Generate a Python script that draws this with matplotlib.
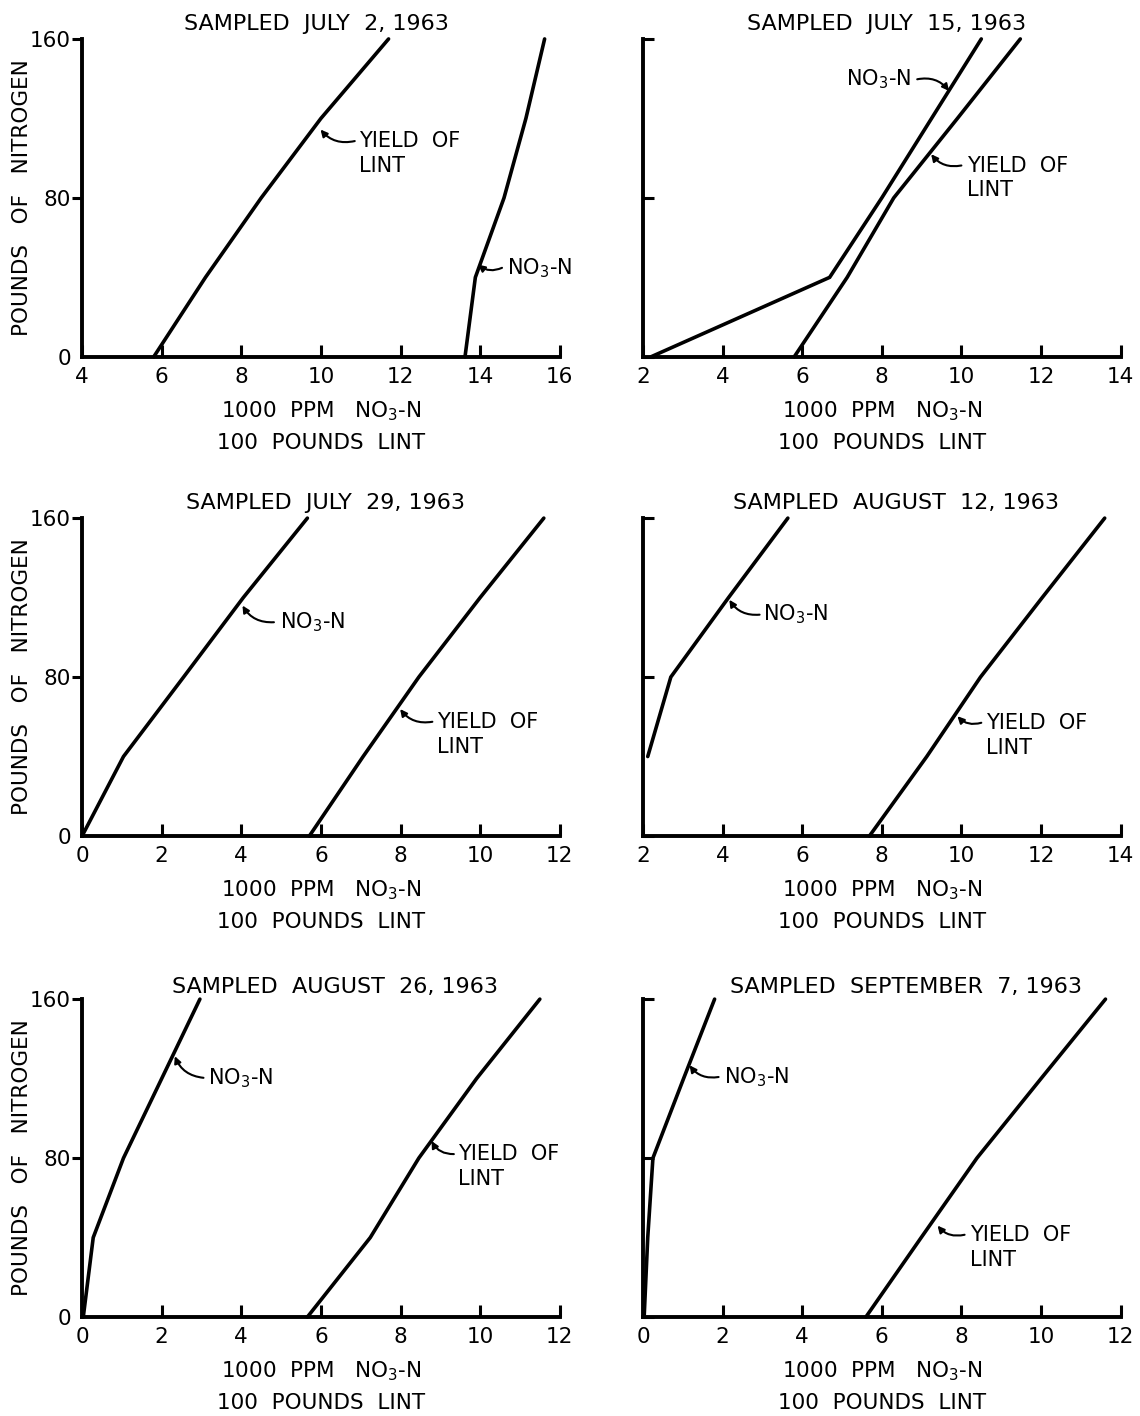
import matplotlib
matplotlib.use('Agg')  # no display
import matplotlib.pyplot as plt
import numpy as np

# Nitrogen applied, pounds per acre (y axis of every panel)
nitrogen = [0, 40, 80, 120, 160]

sample_dates = ['JULY  2, 1963', 'JULY  15, 1963', 'JULY  29, 1963',
                'AUGUST  12, 1963', 'AUGUST  26, 1963', 'SEPTEMBER  7, 1963']

x_ranges = [(4, 16), (2, 14), (0, 12), (2, 14), (0, 12), (0, 12)]

# Petiole NO3-N, 1000 ppm
no3_jul02 = [13.62, 13.88, 14.6, 15.15, 15.62]
no3_jul15 = [2.2, 6.69, 8.0, 9.25, 10.5]
no3_jul29 = [0.0, 1.04, 2.55, 4.05, 5.66]
no3_aug12 = [np.nan, 2.12, 2.7, 4.15, 5.64]
no3_aug26 = [0.03, 0.28, 1.04, 2.0, 2.96]
no3_sep07 = [0.03, 0.12, 0.25, 1.02, 1.8]

# Yield of lint, 100 pounds
lint_jul02 = [5.8, 7.1, 8.5, 10.0, 11.7]
lint_jul15 = [5.8, 7.13, 8.3, 9.9, 11.48]
lint_jul29 = [5.71, 7.06, 8.46, 10.0, 11.6]
lint_aug12 = [7.69, 9.13, 10.48, 12.03, 13.6]
lint_aug26 = [5.66, 7.24, 8.46, 9.91, 11.5]
lint_sep07 = [5.6, 6.99, 8.39, 10.0, 11.62]

no3_all = [no3_jul02, no3_jul15, no3_jul29, no3_aug12, no3_aug26, no3_sep07]
lint_all = [lint_jul02, lint_jul15, lint_jul29, lint_aug12, lint_aug26, lint_sep07]

# Curve labels: arrow head, arrow tail, text anchor (data units), text alignment
no3_labels = [
    ((13.95, 46.4), (14.55, 44.8), (14.67, 44.8), 'left'),
    ((9.69, 133.8), (8.89, 139.7), (8.75, 139.7), 'right'),
    ((4.03, 116.0), (4.82, 107.6), (4.96, 107.6), 'left'),
    ((4.17, 118.9), (4.93, 111.4), (5.02, 111.4), 'left'),
    ((2.33, 131.3), (3.05, 120.4), (3.17, 120.4), 'left'),
    ((1.17, 126.7), (1.90, 120.8), (2.03, 120.8), 'left'),
]
lint_labels = [
    ((9.99, 114.4), (10.85, 108.6), (10.96, 108.6)),
    ((9.24, 102.0), (10.0, 96.3), (10.14, 96.3)),
    ((7.99, 63.9), (8.80, 57.5), (8.92, 57.5)),
    ((9.90, 60.3), (10.50, 57.0), (10.62, 57.0)),
    ((8.78, 88.6), (9.34, 82.0), (9.44, 82.0)),
    ((7.40, 46.0), (8.08, 41.4), (8.21, 41.4)),
]
title_x = [0.49, 0.51, 0.51, 0.53, 0.53, 0.55]
title_pad = [11, 11, 11, 11, 9, 9]

NO3 = r'NO$_3$-N'

plt.rcParams.update({
    'font.family': 'DejaVu Sans',
    'font.size': 15,
    'mathtext.fontset': 'dejavusans',
})

fig = plt.figure(figsize=(11.4, 14.16), dpi=100, facecolor='white')

lefts = [0.072, 0.564]
bottoms = [0.748, 0.4096, 0.0699]
width, height = 0.419, 0.2245

arrow_style = dict(arrowstyle='-|>', color='black', lw=1.5,
                   mutation_scale=10, shrinkA=0, shrinkB=0,
                   connectionstyle='arc3,rad=-0.3')

for i in range(6):
    row, col = divmod(i, 2)
    ax = fig.add_axes([lefts[col], bottoms[row], width, height])
    x0, x1 = x_ranges[i]

    ax.plot(no3_all[i], nitrogen, color='black', lw=2.6,
            solid_joinstyle='miter', solid_capstyle='round', clip_on=False)
    ax.plot(lint_all[i], nitrogen, color='black', lw=2.6,
            solid_joinstyle='miter', solid_capstyle='round', clip_on=False)

    ax.set_xlim(x0, x1)
    ax.set_ylim(0, 160)
    ax.set_xticks(np.arange(x0, x1 + 1, 2))
    ax.set_xticklabels([str(v) for v in range(x0, x1 + 1, 2)])
    ax.set_yticks([0, 80, 160])

    for side in ['top', 'right']:
        ax.spines[side].set_visible(False)
    for side in ['left', 'bottom']:
        ax.spines[side].set_linewidth(2.8)
        ax.spines[side].set_capstyle('projecting')

    ax.tick_params(axis='x', direction='in', length=9, width=2.2,
                   labelsize=15.5, pad=7)
    if col == 0:
        ax.tick_params(axis='y', direction='out', length=7, width=2.2,
                       labelsize=15.5, pad=1)
        ax.yaxis.get_major_ticks()[0].tick1line.set_visible(False)
    else:
        ax.tick_params(axis='y', direction='in', length=8, width=2.2,
                       labelleft=False)

    # panel heading
    ax.annotate('SAMPLED  ' + sample_dates[i], xy=(title_x[i], 1.0),
                xycoords='axes fraction', xytext=(0, title_pad[i]),
                textcoords='offset points', ha='center', va='center',
                fontsize=16)

    # two-line axis caption
    ax.annotate('1000  PPM   ' + NO3, xy=(0.5, 0), xycoords='axes fraction',
                xytext=(0, -39), textcoords='offset points',
                ha='center', va='center', fontsize=15.5)
    ax.annotate('100  POUNDS  LINT', xy=(0.5, 0), xycoords='axes fraction',
                xytext=(0, -62), textcoords='offset points',
                ha='center', va='center', fontsize=15.5)

    # curve labels with pointer arrows
    head, tail, anchor, align = no3_labels[i]
    ax.annotate('', xy=head, xytext=tail, arrowprops=arrow_style)
    ax.text(anchor[0], anchor[1], NO3, ha=align, va='center',
            fontsize=15, clip_on=False)

    head, tail, anchor = lint_labels[i]
    ax.annotate('', xy=head, xytext=tail, arrowprops=arrow_style)
    ax.text(anchor[0], anchor[1], 'YIELD  OF', ha='left', va='center',
            fontsize=15, clip_on=False)
    ax.text(anchor[0], anchor[1] - 12.5, 'LINT', ha='left', va='center',
            fontsize=15, clip_on=False)

    if col == 0:
        fig.text(22 / 1140, bottoms[row] + height / 2,
                 'POUNDS   OF   NITROGEN',
                 rotation=90, ha='center', va='center', fontsize=15.5)

fig.savefig('out.png', dpi=100, facecolor='white')
